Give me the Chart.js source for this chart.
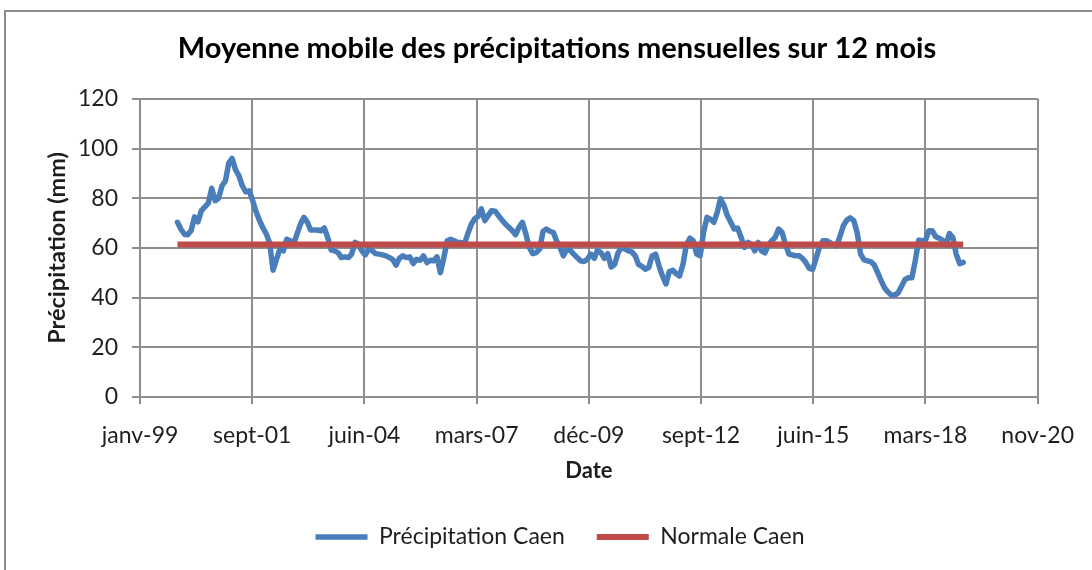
<!DOCTYPE html>
<html><head><meta charset="utf-8">
<script src="https://cdn.jsdelivr.net/npm/chart.js@4.4.0/dist/chart.umd.min.js"></script>
<style>
html,body{margin:0;padding:0;background:#fff;overflow:hidden}
#frame{position:absolute;left:4px;top:10px;width:1100px;height:600px;border:2px solid #8c8c8c;box-sizing:border-box}
#wrap{position:absolute;left:0;top:0;width:1092px;height:570px}
</style></head><body>
<div id="frame"></div>
<div id="wrap"><canvas id="c"></canvas></div>
<script>
// ---- data ----
const chartTitle = "Moyenne mobile des précipitations mensuelles sur 12 mois";
const seriesNames = ["Précipitation Caen", "Normale Caen"];
const firstMonth = { year: 1999, month: 12 }; // first monthly value: déc-99
const precipitation = [
  70.3,67.5,65.5,65.3,67.0,72.5,70.5,75.0,76.5,78.0,84.0,79.0,
  80.0,85.0,87.0,94.0,96.0,91.5,89.0,85.0,82.5,83.0,79.0,74.5,
  71.0,68.0,65.5,62.0,51.0,55.4,59.5,58.8,63.5,62.9,61.5,65.6,
  69.6,72.3,70.3,67.2,67.2,67.2,66.9,68.0,64.2,59.1,58.8,58.1,
  56.1,56.4,56.1,57.5,62.2,61.5,58.8,57.2,59.5,58.8,57.7,57.5,
  57.2,56.8,56.1,55.4,53.1,55.8,56.8,56.1,56.4,53.7,55.4,55.0,
  56.8,54.1,55.0,54.8,56.4,50.0,56.1,62.9,63.5,62.9,62.2,62.2,
  61.5,65.8,69.5,71.6,72.6,75.7,71.0,73.0,75.0,74.8,73.0,71.2,
  69.6,68.3,66.9,65.3,68.3,70.3,65.6,60.2,57.7,58.1,59.5,66.7,
  67.6,66.7,66.2,62.9,60.2,56.8,59.5,59.0,57.5,56.1,54.8,54.5,
  55.4,57.5,55.8,59.1,58.1,55.8,57.7,52.3,53.4,58.1,60.2,59.5,
  58.8,58.4,56.8,53.4,52.6,51.4,52.1,56.8,57.5,52.7,48.7,45.5,
  50.5,51.0,49.6,48.7,53.4,61.2,63.9,62.9,57.5,56.8,66.2,72.3,
  71.6,70.3,74.4,79.8,77.1,73.0,70.3,67.6,68.0,64.2,60.2,62.2,
  61.5,58.8,62.2,58.8,58.0,61.0,62.9,64.2,67.6,66.2,61.5,57.5,
  57.2,56.8,56.8,55.8,54.1,51.8,51.4,55.8,60.4,62.9,62.9,62.2,
  61.2,60.8,64.9,69.0,71.2,72.1,71.0,66.2,57.5,55.2,54.8,54.4,
  53.1,50.0,46.7,44.0,42.3,41.0,41.0,41.9,44.6,47.3,48.0,48.0,
  54.8,63.1,62.9,62.9,66.9,66.9,64.5,63.9,63.1,61.2,65.8,64.2,
  57.5,53.7,54.2
];
const normale = 61.4;
const xTickLabels = ["janv-99","sept-01","juin-04","mars-07","déc-09","sept-12","juin-15","mars-18","nov-20"];
const yTickValues = [0,20,40,60,80,100,120];
const xAxisTitle = "Date";
const yAxisTitle = "Précipitation (mm)";

// ---- build ----
const origin = Date.UTC(1999, 0, 1);
const dayOf = i => (Date.UTC(firstMonth.year, firstMonth.month - 1 + i, 1) - origin) / 86400000;
const precipPoints = precipitation.map((v, i) => ({ x: dayOf(i), y: v }));
const normalPoints = [
  { x: dayOf(0), y: normale },
  { x: dayOf(precipitation.length - 1), y: normale }
];

const FONT = "Lato, 'Open Sans', sans-serif";
const TXT = "#1e1e1e";
const GRID = "#8e8e8e";

const blockShift = {
  id: 'blockShift',
  afterLayout(chart) {
    if (chart.legend) { chart.legend.left += 40; chart.legend.right += 40; }
    if (chart.titleBlock) { chart.titleBlock.left += 37; chart.titleBlock.right += 37; }
  }
};

new Chart(document.getElementById('c'), {
  type: 'line',
  data: {
    datasets: [
      { label: seriesNames[0], data: precipPoints, borderColor: '#4a7ebb', backgroundColor: '#4a7ebb',
        borderWidth: 5.5, pointRadius: 0, tension: 0, borderJoinStyle: 'round', borderCapStyle: 'round', order: 1 },
      { label: seriesNames[1], data: normalPoints, borderColor: '#be4b48', backgroundColor: '#be4b48',
        borderWidth: 6, pointRadius: 0, tension: 0, borderCapStyle: 'butt', order: 0 }
    ]
  },
  options: {
    responsive: true, maintainAspectRatio: false, animation: false,
    layout: { padding: { left: 0, right: 52, top: 0, bottom: 11.5 } },
    plugins: {
      tooltip: { enabled: false },
      title: { display: true, text: chartTitle, color: '#000',
        font: { family: FONT, size: 29, weight: 'bold', lineHeight: 1.2 },
        padding: { top: 31, bottom: 33 } },
      legend: { position: 'bottom',
        labels: { color: TXT, font: { family: FONT, size: 23 }, usePointStyle: true, pointStyle: 'line',
          pointStyleWidth: 52, boxHeight: 23, padding: 32,
          sort: (a, b) => a.datasetIndex - b.datasetIndex } }
    },
    scales: {
      x: { type: 'linear', min: 0, max: 8000,
        afterFit: s => { s.height = 96.5; },
        afterBuildTicks: s => { s.ticks = xTickLabels.map((_, i) => ({ value: i * 1000 })); },
        ticks: { color: TXT, font: { family: FONT, size: 23 }, padding: 18, maxRotation: 0, autoSkip: false,
          callback: (v, i) => xTickLabels[i] },
        grid: { color: GRID, lineWidth: 2, tickLength: 7, drawTicks: true },
        border: { color: GRID, width: 2 },
        title: { display: true, text: xAxisTitle, color: TXT,
          font: { family: FONT, size: 22, weight: 'bold', lineHeight: 1.2 }, padding: { top: 0, bottom: 9 } } },
      y: { min: 0, max: 120,
        afterFit: s => { s.width = 140; },
        afterBuildTicks: s => { s.ticks = yTickValues.map(v => ({ value: v })); },
        ticks: { color: TXT, font: { family: FONT, size: 23 }, padding: 14 },
        grid: { color: GRID, lineWidth: 2, tickLength: 8 },
        border: { color: GRID, width: 2 },
        title: { display: true, text: yAxisTitle, color: TXT,
          font: { family: FONT, size: 23.5, weight: 'bold', lineHeight: 1.2 }, padding: { top: 43, bottom: 0 } } }
    }
  },
  plugins: [blockShift]
});
</script>
</body></html>
